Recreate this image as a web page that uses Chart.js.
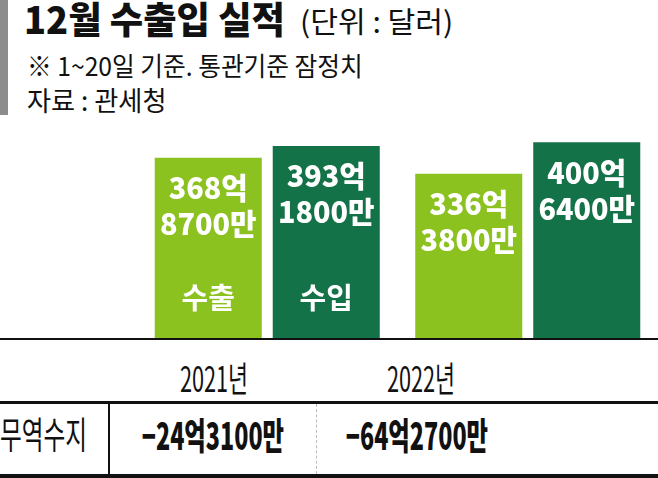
<!DOCTYPE html>
<html>
<head>
<meta charset="utf-8">
<script src="https://cdn.jsdelivr.net/npm/chart.js@4.4.0/dist/chart.umd.min.js"></script>
<style>
  html, body { margin: 0; padding: 0; background: #fff; }
  body { width: 658px; height: 478px; position: relative; overflow: hidden;
         font-family: "Noto Sans CJK KR", "Noto Sans", sans-serif; color: #111; }
  .abs { position: absolute; white-space: nowrap; line-height: 1; }
  .cond { display: inline-block; transform-origin: center center; }
  #chartBox { position: absolute; left: 0; top: 118px; width: 658px; height: 221px; }
</style>
</head>
<body>
<div class="abs" style="left:0;top:0;width:8px;height:115px;background:#8c8c8c"></div>
<div class="abs" style="left:24px;top:0px;font-size:37px;font-weight:900">
  <span class="cond" style="transform:scaleX(0.98);transform-origin:left center">12월 수출입 실적</span></div>
<div class="abs" style="left:300px;top:6px;font-size:29px;font-weight:400">
  <span class="cond" style="transform:scaleX(1.04);transform-origin:left center">(단위 : 달러)</span></div>
<div class="abs" style="left:27px;top:52px;font-size:26px;font-weight:400">
  <span class="cond" style="transform:scaleX(0.95);transform-origin:left center">※ 1~20일 기준. 통관기준 잠정치</span></div>
<div class="abs" style="left:27px;top:86px;font-size:27px;font-weight:400">
  <span class="cond" style="transform:scaleX(0.97);transform-origin:left center">자료 : 관세청</span></div>

<div id="chartBox"><canvas id="myChart"></canvas></div>
<div id="table"></div>

<script>
const categories = ["2021년", "2022년"];
const seriesNames = ["수출", "수입"];
const exportValues = [368.87, 336.38];   // 억 달러
const importValues = [393.18, 400.64];
const balanceValues = [-24.31, -64.27];

const colorExport = "#8cc220";
const colorImport = "#137247";

function fmtEok(v) {
    const neg = v < 0;
    const a = Math.abs(v);
    const eok = Math.floor(a + 1e-9);
    const man = Math.round((a - eok) * 10000);
    return [(neg ? "−" : "") + eok + "억", man + "만"];
}

// bar labels drawn on top of bars
const barLabels = {
    id: "barLabels",
    afterDatasetsDraw(chart) {
        const ctx = chart.ctx;
        ctx.save();
        ctx.fillStyle = "#fff";
        ctx.textAlign = "center";
        ctx.textBaseline = "middle";
        chart.data.datasets.forEach((ds, i) => {
            const meta = chart.getDatasetMeta(i);
            meta.data.forEach((bar, j) => {
                const lines = fmtEok(ds.data[j]);
                ctx.font = "900 30px 'Noto Sans CJK KR'";
                lines.forEach((t, k) => {
                    ctx.save();
                    ctx.translate(bar.x, bar.y + 30 + k * 36);
                    ctx.scale(0.96, 1);
                    ctx.fillText(t, 0, 0);
                    ctx.restore();
                });
                if (j === 0) {
                    ctx.font = "700 29px 'Noto Sans CJK KR'";
                    ctx.fillText(ds.label, bar.x, chart.chartArea.bottom - 41);
                }
            });
        });
        ctx.restore();
    }
};

const ctx = document.getElementById("myChart").getContext("2d");
const myChart = new Chart(ctx, {
    type: "bar",
    data: {
        labels: categories,
        datasets: [
            { label: seriesNames[0], data: exportValues, backgroundColor: colorExport },
            { label: seriesNames[1], data: importValues, backgroundColor: colorImport }
        ]
    },
    options: {
        responsive: true,
        maintainAspectRatio: false,
        animation: false,
        layout: { padding: { left: 137, right: 0, top: 0, bottom: 0 } },
        categoryPercentage: 0.906,
        barPercentage: 0.907,
        plugins: { legend: { display: false }, tooltip: { enabled: false } },
        scales: {
            x: { display: false },
            y: { display: false, min: 0, max: 450 }
        }
    },
    plugins: [barLabels]
});

// table below the chart
const table = document.getElementById("table");
const yearCenters = [214, 421];
const valueCenters = [213, 417];
let html = "";
html += '<div class="abs" style="left:0;top:338px;width:658px;height:2px;background:#111"></div>';
categories.forEach((c, i) => {
    html += '<div class="abs" style="left:' + (yearCenters[i] - 100) + 'px;top:359px;width:200px;text-align:center;font-size:35px">' +
            '<span class="cond" style="transform:scaleX(0.62)">' + c + '</span></div>';
});
html += '<div class="abs" style="left:0;top:401px;width:658px;height:3px;background:#111"></div>';
html += '<div class="abs" style="left:0;top:415px;width:100px;text-align:left;font-size:37px">' +
        '<span class="cond" style="transform:scaleX(0.64);transform-origin:left center">무역수지</span></div>';
balanceValues.forEach((v, i) => {
    const p = fmtEok(v);
    html += '<div class="abs" style="left:' + (valueCenters[i] - 120) + 'px;top:416px;width:240px;text-align:center;font-size:37px;font-weight:900">' +
            '<span class="cond" style="transform:scaleX(0.63)">' + p[0] + p[1] + '</span></div>';
});
html += '<div class="abs" style="left:108px;top:404px;width:2px;height:70px;background:#111"></div>';
html += '<div class="abs" style="left:316px;top:404px;width:0;height:70px;border-left:1px dashed #bbb"></div>';
html += '<div class="abs" style="left:0;top:474px;width:658px;height:4px;background:#111"></div>';
table.innerHTML = html;
</script>
</body>
</html>
